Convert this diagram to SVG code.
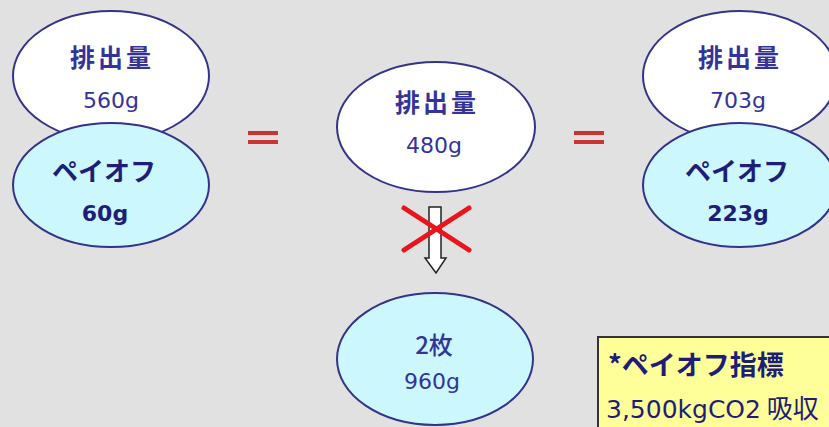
<svg xmlns="http://www.w3.org/2000/svg" width="829" height="427" viewBox="0 0 829 427">
<defs>
<style>
.bg{fill:#e1e1e1}
.em{fill:#ffffff;stroke:#33338a;stroke-width:2}
.po{fill:#ccf8fd;stroke:#33338a;stroke-width:2}
.t{font-family:"Noto Sans CJK JP","Liberation Sans",sans-serif;text-anchor:middle;fill:#333399}
.h{font-size:25px;font-weight:bold;letter-spacing:3px}
.n{font-family:"DejaVu Sans","Noto Sans CJK JP",sans-serif;font-size:22px}
.pb{font-size:26px;font-weight:bold;fill:#1e1e78}
.nb{font-family:"DejaVu Sans","Noto Sans CJK JP",sans-serif;font-size:22px;font-weight:bold;fill:#1e1e78}
.eq{stroke:#cc3333;stroke-width:4}
.x{stroke:#e8161c;stroke-width:5;stroke-linecap:round}
</style>
</defs>
<rect class="bg" x="0" y="0" width="829" height="427"/>
<g id="left-emission">
<ellipse class="em" cx="111" cy="76" rx="98" ry="65"/>
<text class="t h" x="112" y="67">排出量</text>
<text class="t n" x="111" y="108">560g</text>
</g>
<g id="left-payoff">
<ellipse class="po" cx="111" cy="185" rx="98" ry="62"/>
<text class="t pb" x="104" y="181">ペイオフ</text>
<text class="t nb" x="105" y="221">60g</text>
</g>
<g id="center-emission">
<ellipse class="em" cx="436" cy="127" rx="99" ry="65"/>
<text class="t h" x="437" y="112">排出量</text>
<text class="t n" x="434" y="153">480g</text>
</g>
<g id="bottom-sheets">
<ellipse class="po" cx="435" cy="359" rx="98" ry="66"/>
<text class="t" x="434" y="354" style="font-size:24px;font-weight:500;fill:#333399">2枚</text>
<text class="t n" x="432" y="389">960g</text>
</g>
<g id="right-emission">
<ellipse class="em" cx="740" cy="76" rx="97" ry="65"/>
<text class="t h" x="740" y="67">排出量</text>
<text class="t n" x="738" y="108">703g</text>
</g>
<g id="right-payoff">
<ellipse class="po" cx="740" cy="185" rx="97" ry="62"/>
<text class="t pb" x="737" y="181">ペイオフ</text>
<text class="t nb" x="738" y="221">223g</text>
</g>
<g id="connectors">
<line class="eq" x1="248" y1="133" x2="278" y2="133"/>
<line class="eq" x1="248" y1="142" x2="278" y2="142"/>
<line class="eq" x1="574" y1="133" x2="604" y2="133"/>
<line class="eq" x1="574" y1="142" x2="604" y2="142"/>
<path d="M429,207 H441 V258 H446 L436,273 L425,258 H429 Z" fill="#ffffff" stroke="#222222" stroke-width="1.5"/>
<line class="x" x1="404" y1="208" x2="469" y2="250"/>
<line class="x" x1="469" y1="208" x2="404" y2="250"/>
</g>
<g id="note">
<rect x="600" y="339" width="240" height="100" fill="#555555"/>
<rect x="598" y="337" width="240" height="100" fill="#ffff99" stroke="#333333" stroke-width="2"/>
<text class="t" x="608" y="375" style="text-anchor:start;font-size:27px;font-weight:bold;fill:#1e1e78">*ペイオフ指標</text>
<text class="t" x="606" y="418" style="text-anchor:start;font-size:26px;fill:#1e1e78"><tspan style="font-family:'DejaVu Sans','Noto Sans CJK JP',sans-serif;font-size:25px">3,500kgCO2</tspan> 吸収</text>
</g>
</svg>
